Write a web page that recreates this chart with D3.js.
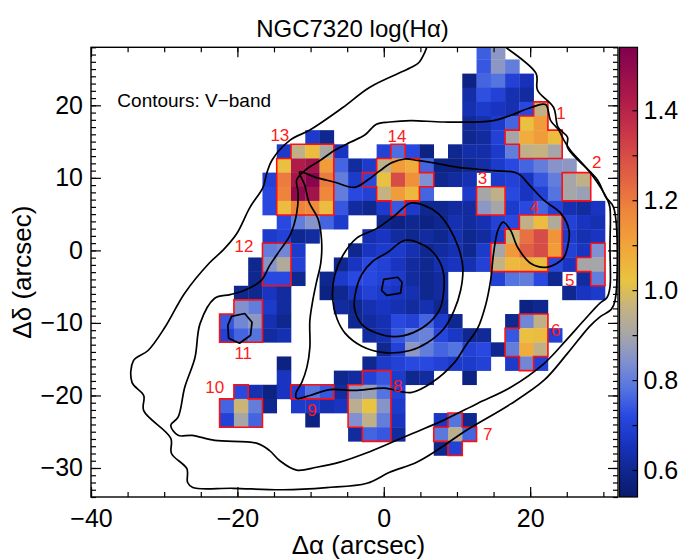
<!DOCTYPE html>
<html>
<head>
<meta charset="utf-8">
<script src="https://cdn.jsdelivr.net/npm/d3@7"></script>
<style>
  body { margin: 0; background: #fff; }
  text { font-family: "Liberation Sans", Arial, Helvetica, sans-serif; }
</style>
</head>
<body>
<svg id="chart" width="682" height="559"></svg>
<script>
// ---- data (arcsec offsets, log Halpha) ----
const CELL = 1.95;                          // spaxel size, arcsec
// map rows: [row j, first column i, values...]; null = no data
const mapRows = [
  [14, 7, [0.75, 0.86]],
  [13, 7, [0.74, 0.86, 0.80]],
  [12, 6, [0.58, 0.76, 0.78, 0.70, 0.65]],
  [11, 6, [0.63, 0.73, 0.70, 0.64, 0.62]],
  [10, 6, [0.64, 0.68, 0.66, 0.64, 0.72, 0.95]],
  [9, 6, [0.61, 0.64, 0.68, 0.76, 1.03, 1.12]],
  [8, -5, [0.68, 0.60]],
  [8, 6, [0.60, 0.62, 0.70, 0.90, 1.08, 1.12, 1.04]],
  [7, -7, [0.68, 0.95, 1.04, 0.91, 0.66]],
  [7, 0, [0.70, 0.77, 0.72, 0.58]],
  [7, 5, [0.60, 0.63, 0.63, 0.68, 0.80, 0.95, 0.96, 0.90]],
  [6, -7, [1.03, 1.42, 1.46, 1.12, 0.76, 0.62, 0.68, 0.95, 1.12, 1.08, 0.76, 0.58, 0.58, 0.60, 0.63, 0.68, 0.72, 0.76, 0.80, 0.85, 0.86]],
  [5, -8, [0.70, 1.20, 1.45, 1.52, 1.20, 0.80, 0.68, 0.72, 1.03, 1.30, 1.15, 0.84, 0.60, 0.62, 0.64]],
  [5, 8, [0.68, 0.70, 0.66, 0.74, 0.80, 0.90, 0.95]],
  [4, -8, [0.72, 1.18, 1.50, 1.46, 1.17, 0.80, 0.72, 0.70, 0.96, 1.12, 1.05, 0.76]],
  [4, 6, [0.68, 0.90, 0.95, 0.72, 0.66, 0.70, 0.78, 0.90, 0.88]],
  [3, -8, [0.72, 1.04, 1.18, 1.16, 1.04, 0.74, 0.62, 0.60, 0.68, 0.74, 0.68, 0.60, 0.60, 0.62, 0.62, 0.86, 0.90, 0.68, 0.72, 0.76, 0.70, 0.64, 0.62, 0.66]],
  [2, -7, [0.72, 0.80, 0.85, 0.76, 0.68]],
  [2, 0, [0.60, 0.58, 0.60, 0.58, 0.60, 0.64, 0.62, 0.64, 0.70, 0.72, 0.95, 1.04, 0.92, 0.70, 0.66, 0.64]],
  [1, -8, [0.68, 0.70, 0.60, 0.62]],
  [1, -1, [0.64, 0.66, 0.62, 0.60, 0.62, 0.60, 0.64, 0.60, 0.62, 0.68, 0.97, 1.22, 1.30, 1.14, 0.68, 0.64, 0.66]],
  [0, -8, [0.80, 0.82, 0.68]],
  [0, -2, [0.60, 0.66, 0.68, 0.68, 0.64, 0.60, 0.62, 0.64, 0.60, 0.68, 0.90, 1.13, 1.26, 1.30, 1.12, 0.70, 0.66, 0.84]],
  [-1, -9, [0.60, 0.85, 0.92, 0.70]],
  [-1, -3, [0.60, 0.66, 0.72, 0.70, 0.66, 0.62, 0.60, 0.64, 0.66, 0.64, 0.70, 0.96, 1.05, 1.07, 1.04, 0.72, 0.66, 0.90, 0.90]],
  [-2, -9, [0.60, 0.72, 0.72, 0.60]],
  [-2, -4, [0.60, 0.68, 0.72, 0.72, 0.70, 0.68, 0.62, 0.60, 0.62]],
  [-2, 8, [0.70, 0.78, 0.80, 0.72, 0.60]],
  [-2, 14, [0.62, 0.80]],
  [-3, -10, [0.60, 0.60, 0.66, 0.62]],
  [-3, -4, [0.58, 0.60, 0.66, 0.70, 0.68, 0.66, 0.64, 0.60, 0.62]],
  [-3, 13, [0.60, 0.66, 0.68]],
  [-4, -10, [0.84, 0.80, 0.68, 0.62]],
  [-4, -3, [0.62, 0.60, 0.64, 0.66, 0.64, 0.62, 0.64, 0.60]],
  [-4, 10, [0.58, 0.60]],
  [-5, -11, [0.74, 0.82, 0.86, 0.64, 0.60]],
  [-5, -2, [0.60, 0.62, 0.64, 0.72, 0.70, 0.76, 0.68, 0.60]],
  [-5, 9, [0.60, 0.82, 0.95]],
  [-6, -11, [0.70, 0.76, 0.78, 0.62, 0.64]],
  [-6, -1, [0.62, 0.64, 0.74, 0.79, 0.81, 0.71, 0.67, 0.60, 0.61, null, 0.74, 1.03, 1.04, 0.70]],
  [-7, 0, [0.60, 0.70, 0.86, 0.80, 0.76, 0.78, 0.70, 0.72, 0.60, 0.80, 1.08, 0.95]],
  [-8, -7, [0.58]],
  [-8, -1, [0.60, 0.68, 0.70, 0.72, 0.72, 0.70, 0.68, 0.68, 0.70, null, 0.68, 0.82, 0.70]],
  [-9, -7, [0.66]],
  [-9, -3, [0.60, 0.62, 0.70, 0.74, 0.68, 0.60, 0.62]],
  [-9, 6, [0.58]],
  [-10, -10, [0.72, 0.64, 0.58, 0.66, 0.70, 0.78, 0.74, 0.62, 0.86, 0.88, 0.78, 0.70]],
  [-11, -11, [0.76, 0.97, 0.80, 0.60]],
  [-11, -6, [0.68, 0.68, 0.64, 0.66, 0.94, 1.02, 0.85, 0.68]],
  [-12, -11, [0.70, 0.90, 0.76]],
  [-12, -5, [0.58]],
  [-12, -2, [0.84, 0.95, 0.80, 0.66]],
  [-12, 4, [0.67, 0.78, 0.60]],
  [-13, -2, [0.62, 0.76, 0.74, 0.62]],
  [-13, 4, [0.79, 0.94, 0.76]],
  [-14, 4, [0.60, 0.70]]
];

// numbered regions: [row j, from column, to column]
const regions = [
  { n: "1",  rows: [[10, 11, 11], [9, 10, 11], [8, 9, 12], [7, 10, 12]], lx: 24.2, ly: 18.9 },
  { n: "2",  rows: [[5, 13, 14], [4, 13, 14]], lx: 29.1, ly: 12.1 },
  { n: "3",  rows: [[4, 7, 8], [3, 7, 8]], lx: 13.5, ly: 9.9 },
  { n: "4",  rows: [[2, 10, 12], [1, 9, 12], [0, 8, 12], [-1, 8, 11]], lx: 20.6, ly: 5.9 },
  { n: "5",  rows: [[0, 15, 15], [-1, 14, 15], [-2, 15, 15]], lx: 25.4, ly: -4.1 },
  { n: "6",  rows: [[-5, 10, 11], [-6, 9, 11], [-7, 9, 11], [-8, 10, 10]], lx: 23.5, ly: -11.0 },
  { n: "7",  rows: [[-12, 5, 5], [-13, 4, 6], [-14, 5, 5]], lx: 14.2, ly: -25.4 },
  { n: "8",  rows: [[-9, -1, 0], [-10, -2, 0], [-11, -2, 0], [-12, -2, 0], [-13, -1, 0]], lx: 1.9, ly: -18.8 },
  { n: "9",  rows: [[-10, -6, -4]], lx: -9.8, ly: -22.1 },
  { n: "10", rows: [[-10, -10, -10], [-11, -11, -9], [-12, -11, -9]], lx: -23.1, ly: -18.9 },
  { n: "11", rows: [[-4, -10, -9], [-5, -11, -9], [-6, -11, -9]], lx: -19.2, ly: -14.2 },
  { n: "12", rows: [[0, -8, -7], [-1, -8, -7], [-2, -8, -7]], lx: -19.1, ly: 0.6 },
  { n: "13", rows: [[7, -6, -4], [6, -7, -4], [5, -7, -4], [4, -7, -4], [3, -7, -4]], lx: -14.2, ly: 15.9 },
  { n: "14", rows: [[7, 1, 1], [6, 0, 2], [5, -1, 3], [4, 0, 2], [3, 1, 1]], lx: 1.8, ly: 15.7 }
];

// V-band isophotes (arcsec)
const contourOuter = [[6.0,28.4],[5.6,27.3],[4.8,25.9],[3.7,25.2],[-1.9,22.5],[-5.6,19.7],[-10.1,16.6],[-12.8,15.2],[-15.3,12.4],[-16.0,10.6],[-16.5,8.7],[-18.3,5.9],[-20.1,2.3],[-22.0,0.0],[-23.8,-1.7],[-27.2,-5.9],[-29.9,-10.6],[-32.2,-13.8],[-34.2,-15.2],[-34.4,-18.2],[-32.8,-20.0],[-32.8,-22.1],[-29.1,-25.9],[-29.0,-28.0],[-26.9,-30.1],[-26.8,-32.0],[-26.1,-32.7],[-20.6,-32.8],[-13.8,-33.0],[-7.8,-32.7],[-2.3,-32.1],[0.8,-30.6],[4.5,-29.2],[7.2,-27.6],[11.3,-24.8],[17.3,-21.2],[21.9,-17.9],[25.1,-14.2],[28.1,-10.5],[29.5,-9.2],[31.1,-8.1],[31.6,-6.9],[31.4,5.9],[30.3,7.4],[29.2,9.7],[25.1,14.2],[25.1,15.6],[23.8,17.0],[23.2,19.7],[21.0,22.1],[20.8,24.4],[16.7,28.0],[16.3,28.4]];
const contour2 = [[22.1,20.1],[20.1,19.7],[17.3,18.6],[15.0,17.9],[8.2,17.7],[3.7,17.9],[0.8,17.7],[-1.0,17.4],[-2.6,15.9],[-4.6,14.9],[-6.7,13.8],[-8.7,12.4],[-10.8,11.0],[-11.9,9.7],[-11.7,7.9],[-11.9,5.1],[-12.8,2.1],[-14.2,0.0],[-15.6,-2.1],[-16.7,-4.1],[-19.0,-5.5],[-21.0,-6.1],[-23.1,-6.6],[-25.1,-10.1],[-25.8,-14.8],[-27.2,-18.9],[-28.1,-23.0],[-29.1,-24.1],[-28.1,-25.5],[-26.2,-25.5],[-23.1,-26.2],[-17.3,-26.6],[-15.6,-27.6],[-14.2,-29.0],[-11.9,-30.3],[-9.2,-29.9],[-6.0,-29.2],[-2.3,-27.9],[0.8,-26.6],[4.0,-25.2],[8.2,-23.4],[12.8,-21.1],[17.3,-18.9],[21.9,-15.6],[24.9,-12.4],[27.3,-9.7],[29.5,-7.3],[30.5,-6.5],[30.9,-5.1],[30.9,0.4],[30.9,5.9],[30.6,6.9],[28.3,10.6],[25.5,13.8],[24.6,15.2],[23.9,16.6],[22.8,17.9]];
const contour3 = [[-11.5,10.8],[-9.4,10.1],[-6.7,9.4],[-4.0,8.7],[-2.2,9.7],[-0.5,11.0],[1.1,12.1],[2.9,12.6],[4.6,12.4],[7.2,12.0],[10.5,11.4],[15.0,11.0],[18.3,10.6],[19.9,9.0],[21.9,6.9],[24.2,5.1],[25.3,2.8],[25.1,0.4],[24.5,-1.1],[22.4,-2.3],[20.1,-1.8],[18.3,0.4],[17.3,2.8],[16.3,3.9],[15.6,2.8],[15.0,-0.4],[14.6,-4.1],[13.9,-7.6],[12.8,-10.8],[11.2,-13.1],[9.7,-15.4],[6.6,-18.2],[3.7,-19.6],[0.1,-19.0],[-4.0,-19.3],[-7.4,-19.2],[-10.1,-20.0],[-11.9,-20.4],[-12.0,-19.7],[-11.2,-18.2],[-10.5,-16.1],[-10.1,-13.4],[-10.1,-9.7],[-9.7,-6.9],[-9.2,-4.4],[-8.6,-1.7],[-8.5,1.4],[-9.0,4.4],[-10.2,6.6],[-10.8,9.0]];
const contour4 = [[3.6,6.5],[5.5,6.2],[7.4,5.1],[8.9,3.2],[10.2,0.4],[10.8,-2.3],[10.5,-5.5],[9.6,-8.3],[8.2,-10.8],[6.0,-12.7],[3.6,-13.8],[0.1,-14.1],[-3.0,-13.2],[-5.3,-11.4],[-6.4,-9.4],[-7.0,-6.6],[-6.7,-3.4],[-5.6,-0.7],[-3.7,1.7],[-1.0,3.0],[1.5,4.8]];
const contour5 = [[2.9,1.4],[5.5,0.7],[7.1,-0.7],[8.1,-2.8],[8.2,-5.5],[7.7,-8.0],[6.3,-9.9],[4.1,-11.3],[1.5,-11.9],[-1.0,-11.4],[-3.0,-10.2],[-4.0,-8.0],[-3.8,-5.5],[-3.0,-3.3],[-1.5,-1.5],[0.5,-0.3]];
const contourCore = [[0.0,-4.0],[1.9,-3.7],[2.5,-4.4],[2.3,-5.9],[0.4,-6.2],[-0.3,-5.5]];
const contourKnot = [[-20.8,-9.1],[-19.0,-8.7],[-18.0,-9.9],[-18.2,-11.7],[-19.7,-12.8],[-21.2,-12.1],[-21.3,-10.3]];

const xTicks = [-40, -20, 0, 20];
const yTicks = [-30, -20, -10, 0, 10, 20];
const cbTicks = [0.6, 0.8, 1.0, 1.2, 1.4];
const title = "NGC7320 log(H\u03b1)";
const note = "Contours: V\u2212band";

// ---- colour table ----
const cmapVals = [0.54, 0.60, 0.66, 0.72, 0.78, 0.84, 0.90, 0.96, 1.02, 1.10, 1.18, 1.26, 1.34, 1.42, 1.54];
const cmapCols = ['#0a1a6a','#0f2890','#1834c0','#2848e0','#5474e0','#8090d0','#a6a6a8','#c4b282','#e8c440','#f2a43a','#ee843c','#e05e44','#cc3a48','#b01c4a','#80004e'];
const color = d3.scaleLinear().domain(cmapVals).range(cmapCols).clamp(true);

// ---- layout ----
const L = 91, R = 618, T = 47.3, B = 497;
const x = d3.scaleLinear().domain([-40, 32]).range([L, R]);
const y = d3.scaleLinear().domain([-34, 28]).range([B, T]);
const cb = d3.scaleLinear().domain([0.54, 1.54]).range([B, T]);
const CBX = 619.5, CBW = 18;

const svg = d3.select('#chart');
const defs = svg.append('defs');
defs.append('clipPath').attr('id', 'plotclip')
  .append('rect').attr('x', L).attr('y', T).attr('width', R - L).attr('height', B - T);

// cells
const cells = [];
mapRows.forEach(([j, i0, vals]) => vals.forEach((v, k) => { if (v != null) cells.push({ i: i0 + k, j, v }); }));
const plot = svg.append('g').attr('clip-path', 'url(#plotclip)');
plot.append('g').selectAll('rect').data(cells).join('rect')
  .attr('x', d => x((d.i - 0.5) * CELL))
  .attr('y', d => y((d.j + 0.5) * CELL))
  .attr('width', d => x((d.i + 0.5) * CELL) - x((d.i - 0.5) * CELL) + 0.3)
  .attr('height', d => y((d.j - 0.5) * CELL) - y((d.j + 0.5) * CELL) + 0.3)
  .attr('fill', d => color(d.v));

// region outlines: edges of each region not shared with another cell of it
const outlinePath = reg => {
  const set = new Set();
  reg.rows.forEach(([j, a, b]) => { for (let i = a; i <= b; i++) set.add(i + ',' + j); });
  const has = (i, j) => set.has(i + ',' + j);
  let p = '';
  set.forEach(key => {
    const [i, j] = key.split(',').map(Number);
    const x0 = x((i - 0.5) * CELL), x1 = x((i + 0.5) * CELL);
    const y0 = y((j + 0.5) * CELL), y1 = y((j - 0.5) * CELL);
    if (!has(i, j + 1)) p += `M${x0},${y0}H${x1}`;
    if (!has(i, j - 1)) p += `M${x0},${y1}H${x1}`;
    if (!has(i - 1, j)) p += `M${x0},${y0}V${y1}`;
    if (!has(i + 1, j)) p += `M${x1},${y0}V${y1}`;
  });
  return p;
};
plot.append('g').selectAll('path').data(regions).join('path')
  .attr('d', outlinePath)
  .attr('fill', 'none').attr('stroke', '#ff1010').attr('stroke-width', 1.6)
  .attr('stroke-linecap', 'square');

// contours
const lineOpen = d3.line().x(d => x(d[0])).y(d => y(d[1])).curve(d3.curveCatmullRom.alpha(0.5));
const lineClosed = d3.line().x(d => x(d[0])).y(d => y(d[1])).curve(d3.curveCatmullRomClosed.alpha(0.5));
const lineSharp = d3.line().x(d => x(d[0])).y(d => y(d[1])).curve(d3.curveLinearClosed);
const cg = plot.append('g').attr('fill', 'none').attr('stroke', '#000').attr('stroke-width', 1.7)
  .attr('stroke-linejoin', 'round');
cg.append('path').attr('d', lineOpen(contourOuter));
[contour2, contour3, contour4, contour5].forEach(c => cg.append('path').attr('d', lineClosed(c)));
[contourCore, contourKnot].forEach(c => cg.append('path').attr('d', lineSharp(c)));

// region numbers
svg.append('g').selectAll('text').data(regions).join('text')
  .attr('x', d => x(d.lx)).attr('y', d => y(d.ly))
  .attr('text-anchor', 'middle').attr('dominant-baseline', 'central')
  .attr('fill', '#ff1a1a').attr('font-size', 17)
  .text(d => d.n);

// note
svg.append('text').attr('x', x(-36.4)).attr('y', y(20.7))
  .attr('dominant-baseline', 'central').attr('font-size', 19).text(note);

// ---- axes ----
const ax = svg.append('g');
const styleAxis = g => { g.select('.domain').remove(); g.selectAll('text').attr('font-size', 25).attr('fill', '#000'); g.selectAll('line').attr('stroke', '#000').attr('stroke-width', 1.2); };
const minorX = d3.range(-40, 33, 5), minorY = d3.range(-34, 29, 1);

ax.append('g').attr('transform', `translate(0,${B})`)
  .call(d3.axisBottom(x).tickValues(xTicks).tickSize(-10).tickPadding(12).tickFormat(d3.format('d'))).call(styleAxis);
ax.append('g').attr('transform', `translate(0,${B})`)
  .call(d3.axisBottom(x).tickValues(minorX).tickSize(-5).tickFormat('')).call(styleAxis);
ax.append('g').attr('transform', `translate(0,${T})`)
  .call(d3.axisTop(x).tickValues(xTicks).tickSize(-10).tickFormat('')).call(styleAxis);
ax.append('g').attr('transform', `translate(0,${T})`)
  .call(d3.axisTop(x).tickValues(minorX).tickSize(-5).tickFormat('')).call(styleAxis);
ax.append('g').attr('transform', `translate(${L},0)`)
  .call(d3.axisLeft(y).tickValues(yTicks).tickSize(-10).tickPadding(8).tickFormat(d3.format('d'))).call(styleAxis);
ax.append('g').attr('transform', `translate(${L},0)`)
  .call(d3.axisLeft(y).tickValues(minorY).tickSize(-5).tickFormat('')).call(styleAxis);
ax.append('g').attr('transform', `translate(${R},0)`)
  .call(d3.axisRight(y).tickValues(yTicks).tickSize(-10).tickFormat('')).call(styleAxis);
ax.append('g').attr('transform', `translate(${R},0)`)
  .call(d3.axisRight(y).tickValues(minorY).tickSize(-5).tickFormat('')).call(styleAxis);

svg.append('rect').attr('x', L).attr('y', T).attr('width', R - L).attr('height', B - T)
  .attr('fill', 'none').attr('stroke', '#000').attr('stroke-width', 1.4);

// titles
svg.append('text').attr('x', (L + R) / 2 - 2).attr('y', 37).attr('text-anchor', 'middle')
  .attr('font-size', 24).text(title);
svg.append('text').attr('x', (L + R) / 2 + 4).attr('y', 554).attr('text-anchor', 'middle')
  .attr('font-size', 26).text('\u0394\u03b1 (arcsec)');
svg.append('text').attr('transform', `translate(31,${(T + B) / 2}) rotate(-90)`).attr('text-anchor', 'middle')
  .attr('font-size', 26).text('\u0394\u03b4 (arcsec)');

// ---- colour bar ----
const grad = defs.append('linearGradient').attr('id', 'cbgrad')
  .attr('x1', 0).attr('y1', 1).attr('x2', 0).attr('y2', 0);
d3.range(0, 1.0001, 0.02).forEach(t => {
  const v = cb.domain()[0] + t * (cb.domain()[1] - cb.domain()[0]);
  grad.append('stop').attr('offset', t).attr('stop-color', color(v));
});
svg.append('rect').attr('x', CBX).attr('y', T).attr('width', CBW).attr('height', B - T)
  .attr('fill', 'url(#cbgrad)').attr('stroke', '#000').attr('stroke-width', 1.2);
svg.append('g').attr('transform', `translate(${CBX + CBW},0)`)
  .call(d3.axisRight(cb).tickValues(d3.range(0.6, 1.5, 0.1)).tickSize(-5).tickFormat('')).call(styleAxis);
svg.append('g').attr('transform', `translate(${CBX + CBW},0)`)
  .call(d3.axisRight(cb).tickValues(cbTicks).tickSize(0).tickPadding(6).tickFormat(d3.format('.1f'))).call(styleAxis);
</script>
</body>
</html>
